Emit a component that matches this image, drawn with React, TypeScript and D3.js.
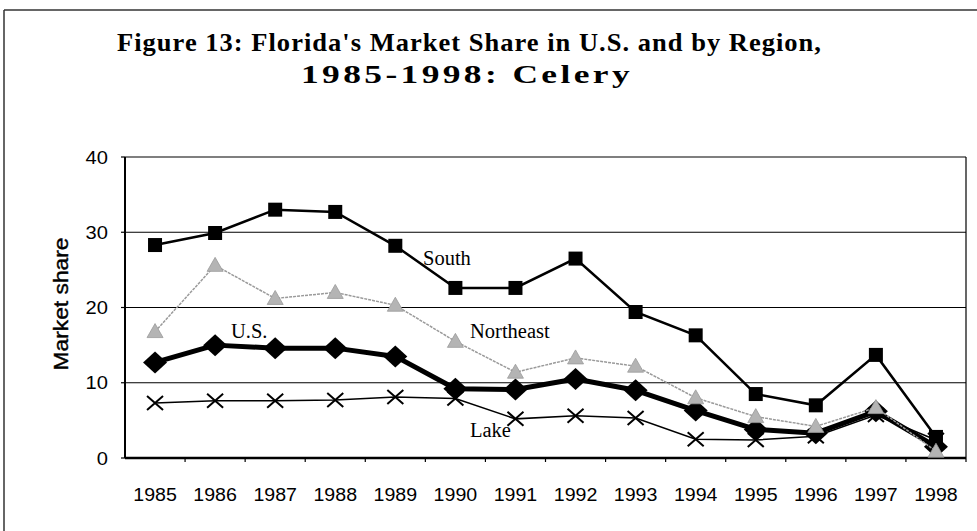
import React from 'react';
import * as d3 from 'd3';

const years = ['1985','1986','1987','1988','1989','1990','1991','1992','1993','1994','1995','1996','1997','1998'];
const south = [28.3, 29.9, 33.0, 32.7, 28.2, 22.6, 22.6, 26.5, 19.4, 16.3, 8.5, 7.0, 13.7, 2.8];
const northeast = [16.8, 25.6, 21.2, 22.0, 20.3, 15.5, 11.4, 13.3, 12.2, 8.0, 5.5, 4.2, 6.7, 0.9];
const us = [12.7, 15.0, 14.6, 14.6, 13.5, 9.2, 9.1, 10.5, 9.0, 6.3, 3.8, 3.3, 6.2, 1.5];
const lake = [7.3, 7.6, 7.6, 7.7, 8.1, 7.9, 5.2, 5.6, 5.3, 2.5, 2.4, 2.9, 5.7, 2.4];
const yTicks = [0, 10, 20, 30, 40];
const titleLines = ["Figure 13: Florida's Market Share in U.S. and by Region,", '1985-1998: Celery'];
const yLabel = 'Market share';

const W = 977, H = 531;
const left = 125, right = 966, top = 157, bottom = 458;

export default function App() {
  const x = d3.scaleBand<string>().domain(years).range([left, right]);
  const y = d3.scaleLinear().domain([0, 40]).range([bottom, top]);
  const cx = (i: number) => (x(years[i]) as number) + x.bandwidth() / 2;
  const line = d3.line<number>().x((_, i) => cx(i)).y(v => y(v));
  const sans = "Arial, 'Liberation Sans', sans-serif";
  const serif = "'Liberation Serif', 'Times New Roman', serif";

  return (
    <svg width={W} height={H} style={{ position: 'absolute', left: 0, top: 0, background: '#fff' }}>
      {/* outer frame */}
      <line x1={4} y1={10} x2={977} y2={10} stroke="#333" strokeWidth={1.5} />
      <line x1={4} y1={10} x2={4} y2={531} stroke="#333" strokeWidth={1.5} />

      {/* title */}
      <text x={117} y={51} fontFamily={serif} fontWeight="bold" fontSize={26} letterSpacing={1} textLength={705} lengthAdjust="spacingAndGlyphs">{titleLines[0]}</text>
      <text x={301} y={83} fontFamily={serif} fontWeight="bold" fontSize={26} letterSpacing={2.5} textLength={332} lengthAdjust="spacingAndGlyphs">{titleLines[1]}</text>

      {/* gridlines */}
      {yTicks.filter(t => t > 0).map(t => (
        <line key={t} x1={left} x2={right} y1={y(t)} y2={y(t)} stroke="#000" strokeWidth={1.2} />
      ))}
      {/* right border */}
      <line x1={right} x2={right} y1={top} y2={bottom} stroke="#000" strokeWidth={1.2} />
      {/* y axis */}
      <line x1={left} x2={left} y1={top} y2={bottom} stroke="#000" strokeWidth={2} />
      {yTicks.map(t => (
        <g key={t}>
          <line x1={left - 4} x2={left} y1={y(t)} y2={y(t)} stroke="#000" strokeWidth={1.2} />
          <text transform={`translate(108,${y(t) + 6.5}) scale(1.15,1)`} textAnchor="end" fontFamily={sans} fontSize={17.5}>{t}</text>
        </g>
      ))}
      {/* x axis */}
      <line x1={left} x2={right} y1={bottom} y2={bottom} stroke="#000" strokeWidth={2.5} />
      {years.map((yr, i) => (
        <g key={yr}>
          <line x1={(x(yr) as number) + x.bandwidth()} x2={(x(yr) as number) + x.bandwidth()} y1={bottom} y2={bottom + 4} stroke="#000" strokeWidth={1.2} />
          <text transform={`translate(${cx(i)},501) scale(1.12,1)`} textAnchor="middle" fontFamily={sans} fontSize={17.5}>{yr}</text>
        </g>
      ))}
      <text transform={`translate(68,304) rotate(-90)`} textAnchor="middle" fontFamily={sans} fontSize={21} textLength={133} lengthAdjust="spacingAndGlyphs" stroke="#000" strokeWidth={0.4}>{yLabel}</text>

      {/* South */}
      <path d={line(south) || ''} fill="none" stroke="#000" strokeWidth={2.5} />
      {south.map((v, i) => (
        <rect key={i} x={cx(i) - 7} y={y(v) - 7} width={14} height={14} fill="#000" />
      ))}
      {/* U.S. */}
      <path d={line(us) || ''} fill="none" stroke="#000" strokeWidth={5} strokeLinejoin="round" />
      {us.map((v, i) => (
        <path key={i} d={`M${cx(i)},${y(v) - 11} L${cx(i) + 12},${y(v)} L${cx(i)},${y(v) + 11} L${cx(i) - 12},${y(v)} Z`} fill="#000" />
      ))}
      {/* Lake */}
      <path d={line(lake) || ''} fill="none" stroke="#000" strokeWidth={1.5} />
      {lake.map((v, i) => (
        <path key={i} d={`M${cx(i) - 8},${y(v) - 7} L${cx(i) + 8},${y(v) + 7} M${cx(i) - 8},${y(v) + 7} L${cx(i) + 8},${y(v) - 7}`} stroke="#000" strokeWidth={2} fill="none" />
      ))}
      {/* Northeast */}
      <path d={line(northeast) || ''} fill="none" stroke="#9a9a9a" strokeWidth={1.5} strokeDasharray="3,1" />
      {northeast.map((v, i) => (
        <path key={i} d={`M${cx(i)},${y(v) - 8} L${cx(i) + 8},${y(v) + 6} L${cx(i) - 8},${y(v) + 6} Z`} fill="#b4b4b4" stroke="#9a9a9a" strokeWidth={0.8} />
      ))}

      {/* series labels */}
      <text x={423} y={265} fontFamily={serif} fontSize={20.5}>South</text>
      <text x={470} y={338} fontFamily={serif} fontSize={20.5}>Northeast</text>
      <text x={231} y={338} fontFamily={serif} fontSize={20.5}>U.S.</text>
      <text x={470} y={437} fontFamily={serif} fontSize={20.5}>Lake</text>
    </svg>
  );
}
